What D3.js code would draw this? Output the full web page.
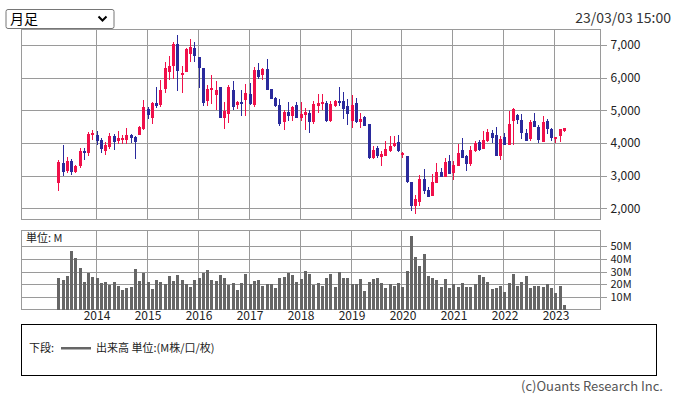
<!DOCTYPE html>
<html>
<head>
<meta charset="utf-8">
<script src="https://cdn.jsdelivr.net/npm/d3@7"></script>
<style>
  html, body { margin: 0; padding: 0; background: #fff; }
  svg { display: block; }
  text { font-family: "Noto Sans CJK JP", "Noto Sans", sans-serif; }
</style>
</head>
<body>
<svg id="chart" width="675" height="397"></svg>
<script>
// ---- data (monthly candles, Apr 2013 .. Mar 2023) ----
const startMonth = "2013-04";
const openVals  = [2786,3389,3144,3450,3124,3297,3756,3705,4257,4246,4093,3767,3889,4215,4073,4093,4103,4246,4195,4256,4430,5042,4766,5215,5164,5654,6184,6357,7031,6092,6163,6725,6898,6643,6306,5296,5613,5480,5715,4776,4899,5623,5174,5266,5317,5501,5164,6235,6082,6266,5643,5368,5164,4644,4940,4827,5164,4766,4868,4919,4644,5144,5195,5235,4685,5144,5286,5286,5123,4685,5235,4654,4807,4583,3542,3858,3583,3603,3767,3899,4022,3654,3603,2808,2084,2206,2900,2563,2390,2788,3104,2971,3450,3073,3308,3777,3614,3369,3767,4022,3807,4062,4297,4246,3614,4175,3930,4685,4858,4705,4297,4124,4685,4481,4022,4685,4430,4134,4215,4378];
const highVals  = [3480,3940,3573,3512,3330,3858,3858,4348,4409,4368,4144,4032,4297,4266,4368,4256,4460,4266,4215,4511,5317,5113,5256,5715,5919,6490,6674,7092,7306,6357,6898,7184,7082,6643,6306,5776,6082,5898,5715,5256,5776,5898,5286,5623,5807,5827,6327,6439,6306,6572,5643,5419,5337,5001,5256,5133,5256,5256,5072,5011,5297,5490,5490,5297,5297,5317,5715,5572,5348,5470,5368,4930,4838,4583,3899,3899,3767,4062,4215,4215,4256,3736,3603,2808,2400,3012,3216,2643,3053,3379,3236,3553,3645,3450,3971,4154,3645,3910,4062,4083,4368,4429,4409,4491,4215,4307,4980,5062,4889,4889,4419,4705,4919,4552,4827,4746,4460,4185,4430,4460];
const lowVals   = [2541,3002,3093,3022,3100,3236,3481,3603,4093,3940,3705,3634,3828,3787,3960,3960,3970,4011,3522,4256,4399,4736,4593,5062,5093,5521,5929,5949,5592,5541,6163,6470,6490,5694,5133,5144,5195,5011,4776,4419,4623,5011,5052,4827,4827,5174,5093,5960,5929,5623,5337,5113,4521,4399,4685,4685,4756,4685,4399,4317,4572,4930,5011,4644,4654,5113,5133,4746,4542,4460,4623,4460,4511,3522,3522,3542,3308,3593,3726,3869,3726,3552,2767,1931,1829,2073,2441,2359,2390,2767,2971,2971,3063,2869,3308,3553,3155,3308,3736,3767,3807,4042,3991,3614,3491,3940,3930,3940,4572,4124,4073,4062,4481,4011,4022,4266,4073,3991,4032,4338];
const closeVals = [3408,3124,3450,3124,3308,3756,3705,4277,4307,4073,3828,3930,4215,4022,4165,4164,4236,4164,4042,4491,5103,4868,5235,5133,5613,6306,6357,7031,6215,6143,6878,6929,6674,6306,5235,5654,5684,5623,4776,4990,5715,5093,5266,5245,5521,5195,6235,6031,6266,5623,5358,5133,4582,4940,4827,5093,4766,4878,4960,4644,5195,5225,5256,4685,5195,5286,5246,5042,4889,5164,4654,4746,4532,3542,3787,3603,3664,3828,3920,4011,3767,3705,2808,2084,2288,2900,2543,2359,2798,3114,2971,3410,3063,3328,3696,3553,3369,3787,3991,3787,4083,4327,4164,3614,4124,3940,4583,5042,4705,4297,4073,4634,4481,4093,4634,4419,4144,4185,4419,4460];
const volumeVals = [25.1,23.5,26.7,46.7,41.1,33.1,21.9,29.1,25.9,25.1,21.1,21.9,19.5,21.9,18.7,15.5,17.1,17.9,32.3,22.7,29.1,21.9,16.3,23.5,21.9,20.3,26.7,22.7,27.5,23.5,20.3,17.9,23.5,25.1,29.1,31.5,23.5,22.7,27.5,25.1,19.5,21.1,15.5,21.1,28.3,20.3,22.7,23.5,18.7,20.3,20.3,17.1,25.1,25.9,29.1,27.5,21.9,24.3,30.7,28.5,19.2,20.8,18.4,25.3,28.4,18.2,30.0,25.3,25.3,20.0,20.0,24.5,15.0,22.1,24.5,25.3,21.3,17.4,20.0,18.9,21.3,18.2,30.3,58.4,41.8,34.7,44.2,26.8,25.3,23.7,18.2,24.5,17.4,20.5,18.2,21.3,18.2,18.2,20.0,27.6,26.1,22.1,16.6,17.4,18.9,14.2,21.3,28.4,18.9,22.1,26.8,17.4,18.9,18.9,18.2,20.5,17.4,13.4,18.9,3.2];
const yearLabels = ["2014","2015","2016","2017","2018","2019","2020","2021","2022","2023"];
const priceTicks = [2000,3000,4000,5000,6000,7000];
const volumeTicks = [10,20,30,40,50];
const periodLabel = "月足";
const stampLabel = "23/03/03 15:00";
const unitLabel = "単位: M";
const legendPrefix = "下段:";
const legendText = "出来高 単位:(M株/口/枚)";
const copyright = "(c)Ouants Research Inc.";

// ---- build rows ----
const parseM = d3.timeParse("%Y-%m");
const t0 = parseM(startMonth);
const months = d3.range(openVals.length).map(i => d3.timeMonth.offset(t0, i));
const rows = months.map((m, i) => ({
  i, date: m, o: openVals[i], h: highVals[i], l: lowVals[i], c: closeVals[i], v: volumeVals[i]
}));
const yearIndex = yearLabels.map(y => rows.findIndex(r => r.date.getFullYear() === +y && r.date.getMonth() === 0));

// ---- layout ----
const svg = d3.select("#chart");
const L = 21.5, R = 600.5;
const pTop = 29.5, pBot = 219.5;
const vTop = 230.5, vBot = 309.5;
const gridColor = "#9a9a9a";
const upColor = "#f0104a", downColor = "#2a2a9c", volColor = "#666";

const x = d3.scaleLinear().domain([-8.65, 127.59]).range([L, R]);
const y = d3.scaleLinear().domain([1663, 7475]).range([pBot, pTop]);
const yv = d3.scaleLinear().domain([0, 62.6]).range([vBot, vTop]);
const px = v => Math.round(x(v));

// ---- price panel ----
const gP = svg.append("g");
gP.append("rect").attr("x", L).attr("y", pTop).attr("width", R - L).attr("height", pBot - pTop)
  .attr("fill", "#fff").attr("stroke", gridColor).attr("shape-rendering", "crispEdges");
gP.selectAll("line.hg").data(priceTicks).join("line")
  .attr("x1", L).attr("x2", R + 6)
  .attr("y1", d => Math.round(y(d)) + 0.5).attr("y2", d => Math.round(y(d)) + 0.5)
  .attr("stroke", gridColor).attr("shape-rendering", "crispEdges");
gP.selectAll("line.vg").data(yearIndex).join("line")
  .attr("x1", d => px(d) - 0.5).attr("x2", d => px(d) - 0.5)
  .attr("y1", pTop).attr("y2", pBot)
  .attr("stroke", gridColor).attr("shape-rendering", "crispEdges");

// right axis
const yAxis = d3.axisRight(y).tickValues(priceTicks).tickSize(0).tickPadding(0)
  .tickFormat(d3.format(","));
const gAx = svg.append("g").attr("transform", `translate(${R + 10},0)`).call(yAxis);
gAx.select(".domain").remove();
gAx.selectAll("text").attr("font-size", 12).attr("fill", "#222")
  .attr("font-family", "'Noto Sans CJK JP', sans-serif");

// candles
const gC = svg.append("g").attr("shape-rendering", "crispEdges");
gC.selectAll("rect.wick").data(rows).join("rect")
  .attr("x", d => px(d.i)).attr("width", 1)
  .attr("y", d => y(d.h)).attr("height", d => Math.max(1, y(d.l) - y(d.h)))
  .attr("fill", d => d.c >= d.o ? upColor : downColor);
gC.selectAll("rect.body").data(rows).join("rect")
  .attr("x", d => px(d.i) - 1).attr("width", 3)
  .attr("y", d => y(Math.max(d.o, d.c)))
  .attr("height", d => Math.max(2, Math.abs(y(d.o) - y(d.c))))
  .attr("fill", d => d.c >= d.o ? upColor : downColor);

// ---- volume panel ----
const gV = svg.append("g");
gV.append("rect").attr("x", L).attr("y", vTop).attr("width", R - L).attr("height", vBot - vTop)
  .attr("fill", "#fff").attr("stroke", gridColor).attr("shape-rendering", "crispEdges");
gV.selectAll("line.hg").data(volumeTicks).join("line")
  .attr("x1", L).attr("x2", R + 6)
  .attr("y1", d => Math.round(yv(d)) + 0.5).attr("y2", d => Math.round(yv(d)) + 0.5)
  .attr("stroke", gridColor).attr("shape-rendering", "crispEdges");
gV.selectAll("line.vg").data(yearIndex).join("line")
  .attr("x1", d => px(d) - 0.5).attr("x2", d => px(d) - 0.5)
  .attr("y1", vTop).attr("y2", vBot)
  .attr("stroke", gridColor).attr("shape-rendering", "crispEdges");
gV.selectAll("rect.vol").data(rows).join("rect")
  .attr("x", d => px(d.i) - 1).attr("width", 3)
  .attr("y", d => yv(d.v)).attr("height", d => yv(0) - yv(d.v))
  .attr("fill", volColor).attr("shape-rendering", "crispEdges");

const vAxis = d3.axisRight(yv).tickValues(volumeTicks).tickSize(0).tickPadding(0)
  .tickFormat(d => d + "M");
const gVx = svg.append("g").attr("transform", `translate(${R + 10},0)`).call(vAxis);
gVx.select(".domain").remove();
gVx.selectAll("text").attr("font-size", 11).attr("fill", "#222")
  .attr("font-family", "'Noto Sans CJK JP', sans-serif");

svg.append("text").attr("x", 26).attr("y", 238).attr("dy", "0.35em")
  .attr("font-size", 11).attr("fill", "#222").text(unitLabel);

// x axis years
const xAxis = d3.axisBottom(x).tickValues(yearIndex).tickSize(0).tickPadding(0)
  .tickFormat((d, k) => yearLabels[k]);
const gXx = svg.append("g").attr("transform", `translate(0,${vBot + 2})`).call(xAxis);
gXx.select(".domain").remove();
gXx.selectAll("text").attr("font-size", 12).attr("fill", "#222")
  .attr("font-family", "'Noto Sans CJK JP', sans-serif");

// ---- top controls ----
svg.append("rect").attr("x", 6).attr("y", 9.5).attr("width", 108).attr("height", 19)
  .attr("rx", 2).attr("fill", "#fff").attr("stroke", "#767676");
svg.append("text").attr("x", 10).attr("y", 19).attr("dy", "0.35em")
  .attr("font-size", 14).attr("fill", "#000").text(periodLabel);
svg.append("path").attr("d", "M98.5,16.5 L102.5,20.5 L106.5,16.5")
  .attr("fill", "none").attr("stroke", "#000").attr("stroke-width", 2);
svg.append("text").attr("x", 671).attr("y", 18).attr("dy", "0.35em")
  .attr("text-anchor", "end").attr("font-size", 14).attr("fill", "#333").text(stampLabel);

// ---- legend ----
svg.append("rect").attr("x", 21.5).attr("y", 324.5).attr("width", 635).attr("height", 50.5)
  .attr("fill", "#fff").attr("stroke", "#000").attr("shape-rendering", "crispEdges");
svg.append("text").attr("x", 29).attr("y", 348).attr("dy", "0.35em")
  .attr("font-size", 11).attr("fill", "#222").text(legendPrefix);
svg.append("rect").attr("x", 61).attr("y", 347).attr("width", 30).attr("height", 2.5)
  .attr("fill", volColor);
svg.append("text").attr("x", 96).attr("y", 348).attr("dy", "0.35em")
  .attr("font-size", 11).attr("fill", "#222").text(legendText);

svg.append("text").attr("x", 663).attr("y", 386).attr("dy", "0.35em")
  .attr("text-anchor", "end").attr("font-size", 13).attr("fill", "#555").text(copyright);
</script>
</body>
</html>
